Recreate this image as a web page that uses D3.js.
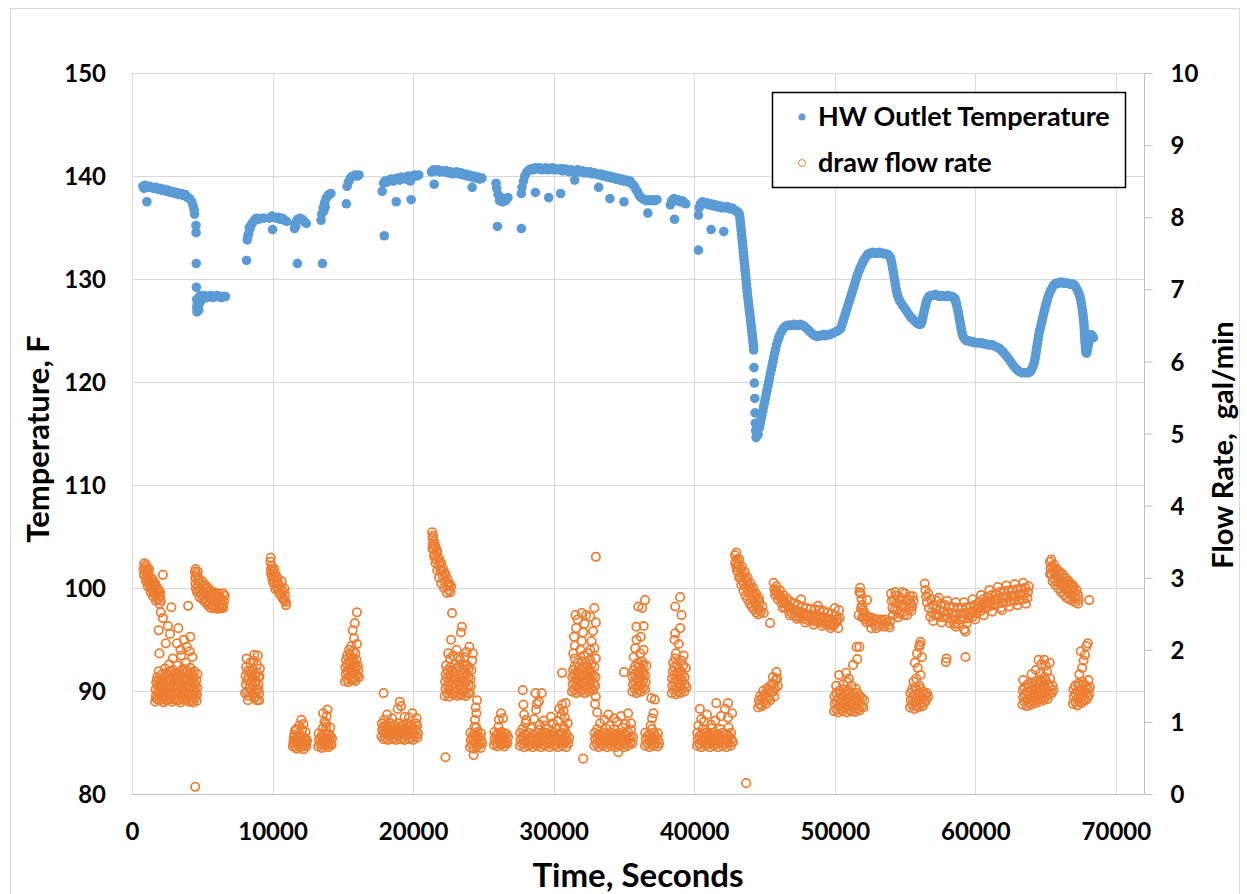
<!DOCTYPE html>
<html><head><meta charset="utf-8">
<script src="https://cdn.jsdelivr.net/npm/d3@7"></script>
<style>
html,body{margin:0;padding:0;background:#fff;}
svg text{font-family:Lato,"Open Sans",sans-serif;font-weight:bold;fill:#000;}
</style></head><body>
<svg id="chart" width="1247" height="894"></svg>
<script>
const timeTicks = [0,10000,20000,30000,40000,50000,60000,70000];
const tempTicks = [80,90,100,110,120,130,140,150];
const flowTicks = [0,1,2,3,4,5,6,7,8,9,10];
const seriesNames = ["HW Outlet Temperature","draw flow rate"];

// HW Outlet Temperature, [seconds, °F]
const tempSeries = [
[780,139.0],[850,138.8],[950,139.1],[1060,137.5],[1100,138.9],[1250,139.0],[1400,138.9],[1550,138.8],[1700,138.9],[1850,138.7],[2000,138.8],[2150,138.6],[2300,138.7],[2450,138.5],[2600,138.6],[2750,138.4],[2900,138.5],[3050,138.3],[3200,138.4],[3350,138.2],[3500,138.3],[3650,138.1],[3800,138.2],[3950,137.9],[4100,137.8],[4250,137.5],[4350,137.1],[4420,136.7],[4450,136.3],
[4550,135.2],[4560,134.5],[4570,131.5],[4580,129.2],[4600,128.0],[4610,127.2],[4620,126.8],[4640,127.5],
[4700,128.1],[4800,127.6],[4900,128.3],[5000,128.0],[5150,128.4],[5300,128.2],[5450,128.3],[5600,128.4],[5750,128.2],[5900,128.3],[6050,128.4],[6200,128.3],[6350,128.2],[6500,128.3],[6650,128.3],[4750,127.0],[4850,128.4],
[8150,131.8],[8200,133.8],[8300,134.4],[8400,134.9],[8500,135.3],[8600,135.5],[8700,135.7],[8850,135.9],[9000,135.8],[9200,135.9],[9400,135.9],[8250,134.2],[8350,135.0],
[9800,135.9],[9950,136.1],[10000,134.8],[10100,136.0],[10250,135.9],[10400,136.0],[10550,135.8],[10700,135.9],[10850,135.7],[11000,135.6],
[11560,134.9],[11600,135.3],[11700,135.6],[11770,131.5],[11800,135.8],[11950,135.9],[12100,135.8],[12250,135.6],[12400,135.4],[11650,135.1],
[13450,135.7],[13500,136.3],[13550,131.5],[13600,136.9],[13700,137.4],[13800,137.8],[13900,138.0],[14000,138.2],[14150,138.3],[13650,136.6],[13750,137.0],
[15250,137.3],[15300,139.0],[15400,139.4],[15500,139.7],[15600,139.9],[15750,140.0],[15900,140.1],[16050,140.0],[16150,140.1],
[17800,138.5],[17950,134.2],[17900,139.3],[18000,139.5],[18150,139.4],[18300,139.6],[18450,139.7],[18600,139.5],[18800,137.5],[18750,139.7],[18900,139.8],[19050,139.6],[19200,139.9],[19350,139.8],[19500,139.7],[19650,140.0],[19860,137.7],[19800,139.5],[19950,139.9],[20100,140.1],[20250,140.0],[20400,140.1],
[21300,140.4],[21500,139.2],[21450,140.6],[21600,140.5],[21750,140.6],[21900,140.4],[22050,140.5],[22200,140.4],[22350,140.5],[22500,140.3],[22650,140.4],[22800,140.2],[22950,140.3],[23100,140.4],[23250,140.2],[23400,140.3],[23550,140.1],[23700,140.2],[23850,140.0],[24000,140.1],[24200,138.9],[24150,139.9],[24300,140.0],[24450,139.8],[24600,139.9],[24750,139.7],[24900,139.8],
[25900,139.3],[25950,138.8],[26000,135.1],[26050,138.2],[26150,137.6],[26250,137.9],[26350,137.5],[26450,137.8],[26600,137.6],[26750,137.9],
[27700,134.9],[27700,138.3],[27750,138.9],[27850,139.5],[27950,140.0],[28100,140.4],[28250,140.6],[28400,140.7],[28550,140.6],[28700,138.4],[28700,140.8],[28850,140.7],[29000,140.8],[29150,140.6],[29300,140.7],[29450,140.8],[29650,137.9],[29600,140.6],[29750,140.7],[29900,140.8],[30050,140.6],[30200,140.7],[30350,140.6],[30500,138.3],[30500,140.7],[30650,140.5],[30800,140.7],[30950,140.6],[31100,140.4],[31250,140.6],[31400,140.5],[31500,139.6],[31550,140.4],[31700,140.6],[31850,140.4],[32000,140.5],[32150,140.3],[32300,140.4],[32450,140.3],[32600,140.4],[32750,140.2],[32900,140.3],[33050,140.2],[33200,138.9],[33200,140.1],[33350,140.2],[33500,140.0],[33650,140.1],[33800,139.9],[34000,137.8],[33950,140.0],[34100,139.8],[34250,139.9],[34400,139.7],[34550,139.8],[34700,139.6],[34850,139.7],[35000,137.5],[35000,139.5],[35150,139.6],[35300,139.4],[35450,139.5],[35600,139.2],[35750,139.0],[35850,138.7],[35950,138.5],[36050,138.2],[36150,138.0],[36300,137.8],[36450,137.7],[36600,137.6],[36700,136.4],[36750,137.7],[36900,137.6],[37050,137.7],[37200,137.6],[37350,137.7],
[38300,137.2],[38400,137.6],[38550,137.8],[38600,135.8],[38700,137.6],[38850,137.7],[39000,137.5],[39150,137.6],[39300,137.4],[39400,137.3],
[40300,132.8],[40300,136.2],[40350,136.9],[40450,137.3],[40600,137.5],[40750,137.3],[40900,137.4],[41050,137.2],[41200,134.8],[41200,137.3],[41350,137.1],[41500,137.2],[41650,137.0],[41800,137.1],[41950,136.9],[42100,134.6],[42100,137.0],[42250,136.9],[42400,137.0],[42550,136.8],[42700,136.9],[42850,136.7],[43000,136.6],[43100,136.5],[43180,136.4],
[43230,136.1],[43260,135.75],[43290,135.4],[43320,135.05],[43345,134.7],[43370,134.35],[43395,134.0],[43420,133.65],[43445,133.3],[43470,132.95],[43495,132.6],[43520,132.25],[43545,131.9],[43570,131.55],[43595,131.2],[43620,130.85],[43645,130.5],[43670,130.15],[43695,129.8],[43720,129.45],[43745,129.1],[43770,128.75],[43795,128.4],[43830,128.05],[43860,127.7],[43890,127.35],[43920,127.0],[43950,126.65],[43980,126.3],[44010,125.95],[44040,125.6],[44070,125.25],[44100,124.9],[44130,124.55],[44160,124.2],[44190,123.85],[44210,123.5],[44230,123.1],
[44250,121.4],[44280,119.9],[44310,118.4],[44330,117.0],[44350,116.0],[44370,115.3],[44400,114.6],[44450,114.8],[44500,115.3],[44550,114.9],[44600,115.8],[44650,115.6],
[44700,116.0],[44760,116.4],[44820,116.8],[44880,117.2],[44940,117.6],[45000,118.0],[45060,118.4],[45120,118.8],[45180,119.2],[45240,119.6],[45300,120.0],[45360,120.4],[45420,120.8],[45480,121.2],[45540,121.6],[45600,122.0],[45660,122.4],[45720,122.8],[45790,123.2],[45860,123.6],[45940,124.0],[46020,124.3],[46100,124.6],[46200,124.9],[46300,125.1],[46400,125.3],[46520,125.4],[46650,125.5],
[46800,125.5],[46950,125.5],[47100,125.6],[47250,125.5],[47400,125.5],[47550,125.6],[47700,125.5],[47850,125.4],[48000,125.2],[48150,125.0],[48300,124.8],[48450,124.6],[48600,124.5],[48750,124.4],[48900,124.5],[49050,124.5],[49200,124.6],[49350,124.5],[49500,124.6],[49650,124.6],[49800,124.7],[49950,124.8],[50100,124.9],[50250,125.0],[50350,125.1],
[50430,125.2],[50510,125.55],[50590,125.9],[50670,126.25],[50750,126.6],[50830,126.95],[50910,127.3],[50990,127.65],[51070,128.0],[51150,128.35],[51230,128.7],[51310,129.05],[51390,129.4],[51470,129.75],[51550,130.1],[51630,130.45],[51710,130.75],[51800,131.05],[51900,131.35],[52000,131.65],[52100,131.9],[52200,132.1],[52300,132.3],[52420,132.45],
[52550,132.5],[52700,132.6],[52850,132.5],[53000,132.5],[53150,132.6],[53300,132.5],[53450,132.5],[53600,132.4],[53750,132.4],[53850,132.3],
[53950,132.1],[54010,131.8],[54070,131.4],[54120,131.0],[54170,130.6],[54220,130.2],[54270,129.8],[54320,129.4],[54370,129.0],[54430,128.6],[54500,128.3],[54580,128.0],[54660,127.8],[54800,127.5],
[54950,127.2],[55100,126.9],[55250,126.6],[55400,126.3],[55550,126.1],[55700,125.9],[55850,125.7],[56000,125.6],[56100,125.6],
[56150,125.7],[56200,125.9],[56250,126.2],[56300,126.5],[56350,126.8],[56400,127.1],[56450,127.4],[56500,127.7],[56560,127.95],[56630,128.15],[56700,128.3],
[56850,128.4],[57000,128.4],[57150,128.5],[57300,128.4],[57450,128.3],[57600,128.4],[57750,128.3],[57900,128.3],[58050,128.4],[58200,128.3],[58350,128.3],[58450,128.2],
[58550,128.1],[58600,127.85],[58650,127.6],[58700,127.3],[58750,127.0],[58790,126.7],[58830,126.4],[58870,126.1],[58910,125.8],[58950,125.5],[58990,125.2],[59030,124.9],[59080,124.6],[59150,124.35],[59250,124.15],
[59400,124.0],[59550,124.0],[59700,123.9],[59850,123.9],[60000,123.8],[60150,123.8],[60300,123.8],[60450,123.8],[60600,123.7],[60750,123.7],[60900,123.6],[61050,123.6],[61200,123.6],[61350,123.5],[61500,123.4],[61650,123.3],[61800,123.15],[61950,122.95],[62100,122.7],[62250,122.45],[62400,122.2],[62550,121.9],[62700,121.6],[62850,121.35],[63000,121.15],[63150,121.0],[63300,120.9],[63450,120.9],[63600,120.9],[63700,120.9],
[63800,120.9],[63900,121.0],[64000,121.2],[64080,121.45],[64150,121.7],[64210,122.0],[64260,122.35],[64300,122.7],[64340,123.05],[64380,123.4],[64420,123.75],[64460,124.1],[64500,124.45],[64550,124.8],[64600,125.1],[64660,125.45],[64720,125.8],[64780,126.15],[64840,126.5],[64900,126.85],[64960,127.2],[65030,127.55],[65100,127.9],[65180,128.25],[65260,128.55],[65350,128.85],[65450,129.1],[65550,129.35],[65650,129.5],[65800,129.6],
[65950,129.6],[66100,129.7],[66250,129.6],[66400,129.6],[66550,129.6],[66700,129.5],[66850,129.5],
[66950,129.5],[67050,129.4],[67150,129.2],[67250,128.95],[67350,128.65],[67430,128.35],[67490,128.0],[67540,127.65],[67580,127.3],[67620,126.95],[67650,126.6],[67680,126.25],[67710,125.9],[67730,125.55],[67750,125.2],[67765,124.85],[67780,124.5],[67795,124.15],[67810,123.8],[67830,123.45],[67850,123.1],[67880,122.85],[67920,122.8],[67970,123.1],[68020,123.45],[68070,123.8],[68120,124.15],[68170,124.45],[68230,124.6],[68300,124.5],[68400,124.3]
];

// draw flow rate, [seconds, gal/min]
const flowSeries = [
[820,3.12],[850,3.04],[900,3.15],[950,3.08],[980,2.99],[1050,3.10],[1080,3.02],[1150,2.95],[1180,3.05],[1250,2.97],[1300,2.88],[1350,2.99],[1420,2.91],[1480,2.82],[1550,2.93],[1600,2.85],[1680,2.76],[1720,2.88],[1800,2.79],[1850,2.70],[1920,2.82],[1980,2.74],[2050,2.68],[1100,3.11],[1400,2.84],[2200,3.04],
[870,3.20],[1000,2.95],[1130,2.88],[1200,3.12],[1330,2.80],[1450,2.98],[1500,2.74],[1650,2.92],[1700,2.68],[1870,2.84],[1950,2.64],[2000,2.80],[1000,3.18],[1580,2.78],
[1650,1.28],[1700,1.36],[1680,1.45],[1720,1.55],[1750,1.32],[1800,1.62],[1950,1.30],[1980,1.40],[2000,1.50],[2020,1.58],[1900,1.70],[2250,1.27],[2280,1.35],[2300,1.44],[2260,1.53],[2320,1.62],[2350,1.74],[2550,1.31],[2580,1.40],[2600,1.49],[2620,1.57],[2560,1.66],[2640,1.80],[2850,1.28],[2880,1.37],[2900,1.46],[2920,1.55],[2870,1.64],[2930,1.72],[2900,1.88],[3150,1.30],[3180,1.39],[3200,1.48],[3220,1.57],[3170,1.67],[3230,1.78],[3450,1.27],[3480,1.36],[3500,1.45],[3520,1.54],[3460,1.63],[3540,1.71],[3500,1.92],[3750,1.30],[3780,1.39],[3800,1.48],[3820,1.58],[3760,1.68],[3840,1.82],[4050,1.28],[4080,1.37],[4100,1.46],[4120,1.55],[4060,1.65],[4140,1.75],[4100,1.98],[4350,1.27],[4380,1.36],[4400,1.45],[4420,1.54],[4360,1.62],[4440,1.70],[4600,1.29],[4620,1.38],[4650,1.47],[4580,1.58],[4660,1.66],
[1800,1.32],[1820,1.41],[1850,1.50],[1830,1.58],[2120,1.31],[2150,1.40],[2130,1.49],[2160,1.57],[2120,1.66],[2420,1.30],[2450,1.39],[2430,1.48],[2460,1.57],[2440,1.68],[2720,1.32],[2750,1.41],[2730,1.50],[2760,1.59],[2740,1.70],[3020,1.31],[3050,1.40],[3030,1.49],[3060,1.59],[3040,1.68],[3320,1.30],[3350,1.39],[3330,1.49],[3360,1.58],[3340,1.67],[3620,1.32],[3650,1.41],[3630,1.50],[3660,1.59],[3640,1.74],[3920,1.31],[3950,1.40],[3930,1.50],[3960,1.60],[3940,1.70],[4220,1.30],[4250,1.39],[4230,1.49],[4260,1.58],[4240,1.68],[4500,1.33],[4520,1.42],[4510,1.52],
[2050,2.52],[2800,2.59],[4000,2.61],[2200,2.44],[2550,2.33],[1900,2.27],[3300,2.30],[4150,2.18],[2400,2.09],[3200,2.09],[3700,2.14],[2700,2.22],[3450,2.00],[1950,1.95],[4300,1.90],[3900,2.04],[4500,0.10],
[4480,3.08],[4500,3.00],[4520,2.92],[4550,2.85],[4600,3.04],[4650,2.96],[4700,2.88],[4750,2.80],[4850,2.93],[4900,2.85],[4950,2.77],[5050,2.88],[5100,2.80],[5150,2.72],[5250,2.84],[5300,2.76],[5350,2.68],[5450,2.80],[5500,2.72],[5550,2.64],[5650,2.78],[5700,2.70],[5750,2.62],[5850,2.76],[5900,2.68],[5950,2.61],[6050,2.74],[6100,2.66],[6150,2.60],[6250,2.72],[6300,2.64],[6400,2.70],[6450,2.62],[6550,2.67],[6600,2.75],
[4530,3.12],[4620,2.80],[4680,3.08],[4800,2.73],[4780,2.98],[5000,2.70],[5000,2.95],[5200,2.66],[5200,2.90],[5400,2.62],[5400,2.86],[5600,2.58],[5600,2.82],[5800,2.58],[5800,2.80],[6000,2.57],[6000,2.78],[6200,2.57],[6200,2.78],[6350,2.58],[6500,2.58],[6500,2.78],
[8050,1.40],[8100,1.52],[8080,1.64],[8120,1.76],[8150,1.88],[8300,1.36],[8350,1.47],[8320,1.59],[8380,1.70],[8400,1.82],[8550,1.38],[8600,1.50],[8580,1.62],[8620,1.73],[8650,1.85],[8800,1.35],[8850,1.45],[8820,1.56],[8870,1.68],[8900,1.79],[8950,1.92],[9050,1.40],[9000,1.52],[9080,1.63],[9100,1.74],[8700,1.93],
[8180,1.42],[8200,1.58],[8220,1.70],[8450,1.43],[8470,1.55],[8480,1.66],[8720,1.41],[8740,1.55],[8760,1.65],[8980,1.45],[9000,1.62],[8250,1.30],[8700,1.33],[9050,1.30],[8900,1.30],
[9850,3.22],[9880,3.12],[9900,3.05],[9950,3.16],[10000,2.98],[10050,3.08],[10100,2.92],[10150,3.01],[10250,2.88],[10300,2.96],[10400,2.82],[10450,2.91],[10550,2.77],[10600,2.86],[10700,2.72],[10750,2.81],[10850,2.68],[10900,2.76],[10950,2.66],[10000,3.10],
[9870,3.28],[9950,3.02],[10050,2.93],[10120,3.12],[10200,2.84],[10350,3.00],[10500,2.78],[10650,2.95],[10800,2.70],[10850,2.85],[10950,2.62],[10200,3.05],
[11450,0.66],[11500,0.74],[11550,0.82],[11700,0.63],[11750,0.71],[11800,0.79],[11950,0.65],[12000,0.73],[12050,0.81],[12200,0.62],[12250,0.70],[12300,0.78],[12400,0.66],[12450,0.74],[12100,0.89],[11900,0.95],[12050,1.03],[12350,0.86],[11600,0.88],
[11480,0.70],[11520,0.79],[11620,0.66],[11650,0.75],[11870,0.68],[11880,0.77],[12120,0.66],[12150,0.75],[12330,0.69],[12350,0.76],[11700,0.90],[12200,0.97],
[13250,0.66],[13300,0.75],[13280,0.84],[13500,0.64],[13550,0.73],[13520,0.82],[13570,0.91],[13750,0.66],[13800,0.75],[13780,0.84],[13820,0.93],[14000,0.65],[14050,0.74],[14020,0.83],[14200,0.68],[14230,0.77],[13700,1.00],[13850,1.08],[13900,1.17],[14100,0.92],
[13400,0.69],[13420,0.78],[13650,0.69],[13660,0.78],[13900,0.68],[13920,0.77],[14120,0.70],[14130,0.80],[13600,1.12],[13800,0.98],
[15150,1.56],[15200,1.66],[15180,1.76],[15220,1.86],[15400,1.55],[15450,1.64],[15420,1.74],[15470,1.84],[15500,1.94],[15650,1.58],[15700,1.68],[15680,1.78],[15720,1.88],[15750,1.98],[15900,1.57],[15950,1.66],[15920,1.76],[15970,1.86],[16000,2.08],[16150,1.62],[16100,1.72],[15600,2.05],[15800,2.16],[15700,2.27],[15850,2.37],[16000,2.52],[15450,2.00],
[15300,1.60],[15320,1.70],[15300,1.80],[15560,1.61],[15580,1.71],[15570,1.82],[15820,1.60],[15830,1.71],[15810,1.82],[16050,1.64],[16060,1.78],[15600,1.90],[15900,1.95],[15300,1.92],
[17750,0.80],[17800,0.89],[17780,0.98],[18050,0.78],[18100,0.87],[18080,0.96],[18350,0.80],[18400,0.89],[18380,0.98],[18650,0.78],[18700,0.87],[18680,0.96],[18950,0.80],[19000,0.89],[18980,0.98],[19250,0.78],[19300,0.87],[19280,0.96],[19550,0.80],[19600,0.89],[19580,0.98],[19850,0.78],[19900,0.87],[19880,0.96],[20150,0.80],[20200,0.89],[20180,0.98],[20350,0.84],[17900,1.40],[18150,1.10],[18500,1.05],[18900,1.18],[19050,1.28],[19150,1.22],[19400,1.07],[19950,1.12],[20250,1.05],[17950,1.03],[19700,1.06],
[17900,0.76],[17920,0.85],[17900,0.93],[18200,0.75],[18220,0.84],[18200,0.92],[18500,0.76],[18520,0.85],[18500,0.93],[18800,0.75],[18820,0.84],[18800,0.92],[19100,0.76],[19120,0.85],[19100,0.93],[19400,0.75],[19420,0.84],[19400,0.92],[19700,0.76],[19720,0.85],[19700,0.93],[20000,0.75],[20020,0.84],[20000,0.92],[20300,0.78],[20300,0.95],
[21350,3.63],[21380,3.55],[21400,3.47],[21450,3.40],[21500,3.50],[21550,3.32],[21600,3.42],[21650,3.25],[21700,3.34],[21800,3.18],[21850,3.27],[21950,3.10],[22000,3.20],[22100,3.03],[22150,3.12],[22250,2.96],[22300,3.05],[22400,2.89],[22450,2.98],[22550,2.83],[22600,2.91],[22650,2.80],
[21380,3.40],[21480,3.30],[21600,3.20],[21720,3.10],[21850,3.00],[22000,2.92],[22200,2.86],[22400,2.79],[21420,3.58],[21550,3.45],[21700,3.38],[21900,3.22],[22050,3.10],[22250,3.05],[22500,2.92],[22700,2.88],
[22250,1.36],[22300,1.46],[22280,1.56],[22320,1.66],[22350,1.78],[22550,1.35],[22600,1.45],[22580,1.55],[22620,1.65],[22650,1.76],[22640,1.88],[22850,1.38],[22900,1.48],[22880,1.58],[22920,1.68],[22950,1.80],[23150,1.36],[23200,1.46],[23180,1.56],[23220,1.66],[23250,1.77],[23230,1.90],[23450,1.37],[23500,1.47],[23480,1.57],[23520,1.67],[23550,1.78],[23750,1.36],[23800,1.46],[23780,1.56],[23820,1.66],[23850,1.78],[24050,1.40],[24100,1.50],[24080,1.60],[24150,1.72],[24200,1.85],[24250,1.95],[22770,2.51],[23470,2.32],[23400,2.24],[22700,2.14],[24000,2.04],[23100,2.00],[23800,1.97],[22300,0.51],
[22420,1.40],[22440,1.50],[22420,1.61],[22450,1.72],[22720,1.40],[22740,1.51],[22720,1.61],[22760,1.72],[23020,1.41],[23040,1.52],[23020,1.62],[23060,1.74],[23320,1.40],[23340,1.51],[23320,1.61],[23360,1.72],[23620,1.41],[23640,1.52],[23620,1.62],[23660,1.73],[23920,1.40],[23940,1.51],[23920,1.61],[23960,1.74],[22500,1.95],[22850,1.92],[23350,1.86],[23650,1.90],
[24050,0.65],[24100,0.75],[24080,0.85],[24300,0.63],[24350,0.73],[24320,0.83],[24370,0.93],[24550,0.66],[24600,0.76],[24580,0.86],[24800,0.64],[24850,0.74],[24820,0.84],[24400,1.03],[24500,1.12],[24450,1.20],[24550,1.30],[24300,0.54],
[24180,0.69],[24200,0.79],[24450,0.70],[24460,0.80],[24700,0.69],[24720,0.79],[24920,0.70],[24500,0.92],
[25750,0.68],[25800,0.77],[25780,0.86],[26000,0.66],[26050,0.75],[26020,0.84],[26070,0.93],[26250,0.68],[26300,0.77],[26280,0.86],[26500,0.66],[26550,0.75],[26530,0.84],[26700,0.70],[26750,0.79],[26100,1.03],[26250,1.12],[26400,1.05],
[25900,0.71],[25900,0.81],[26150,0.71],[26160,0.81],[26400,0.70],[26420,0.80],[26620,0.72],[26650,0.83],
[27600,0.67],[27650,0.76],[27620,0.85],[27900,0.65],[27950,0.74],[27920,0.83],[28200,0.67],[28250,0.76],[28220,0.85],[28500,0.65],[28550,0.74],[28520,0.83],[28800,0.67],[28850,0.76],[28820,0.85],[29100,0.65],[29150,0.74],[29120,0.83],[29400,0.67],[29450,0.76],[29420,0.85],[29700,0.65],[29750,0.74],[29720,0.83],[30000,0.67],[30050,0.76],[30020,0.85],[30300,0.65],[30350,0.74],[30320,0.83],[30600,0.67],[30650,0.76],[30620,0.85],[30900,0.65],[30950,0.74],[30920,0.83],[31100,0.78],[27800,1.44],[27850,1.24],[27900,1.10],[28000,0.98],[28050,1.03],[28600,1.04],[28700,1.40],[28800,1.25],[28750,1.17],[29000,0.96],[29300,1.02],[29400,0.95],[29800,1.07],[29950,0.98],[30300,1.01],[30400,1.18],[30600,1.24],[30550,1.10],[30800,1.06],[30700,0.93],[31000,0.98],[29150,1.40],[28940,1.28],[30850,1.26],[30700,1.15],
[27750,0.70],[27770,0.80],[28050,0.71],[28070,0.81],[28350,0.69],[28370,0.79],[28650,0.70],[28670,0.81],[28950,0.71],[28970,0.80],[29250,0.69],[29270,0.79],[29550,0.70],[29570,0.81],[29850,0.71],[29870,0.80],[30150,0.69],[30170,0.79],[30450,0.70],[30470,0.81],[30750,0.71],[30770,0.80],[31050,0.70],[27780,0.90],[28380,0.91],[28980,0.89],[29580,0.90],[30180,0.92],[30780,0.90],
[31300,1.42],[31350,1.52],[31320,1.62],[31380,1.72],[31600,1.40],[31650,1.50],[31620,1.60],[31680,1.70],[31700,1.82],[31900,1.42],[31950,1.52],[31920,1.62],[31980,1.72],[32000,1.84],[32200,1.40],[32250,1.50],[32220,1.60],[32280,1.70],[32300,1.82],[32500,1.42],[32550,1.52],[32520,1.62],[32580,1.72],[32600,1.86],[32800,1.44],[32850,1.54],[32820,1.64],[32900,1.76],[33000,1.88],[31400,1.95],[31500,2.06],[31450,2.18],[31600,2.30],[31700,2.42],[31900,2.00],[32000,2.12],[32100,2.24],[32200,2.36],[32300,2.48],[32600,2.00],[32700,2.12],[32800,2.26],[33000,2.38],[32900,2.58],[31550,2.48],[32000,2.51],[32600,2.46],[32900,2.02],
[31450,1.45],[31480,1.56],[31460,1.66],[31490,1.77],[31760,1.46],[31780,1.56],[31760,1.66],[31800,1.76],[32060,1.45],[32080,1.55],[32060,1.66],[32100,1.76],[32360,1.46],[32380,1.56],[32360,1.66],[32400,1.78],[32660,1.47],[32680,1.58],[32680,1.68],[32700,1.80],[32950,1.50],[32980,1.62],[31500,1.88],[32150,1.92],[32450,1.95],
[33000,3.29],[30600,1.68],[32100,0.49],
[32900,0.67],[32950,0.76],[32920,0.85],[33200,0.65],[33250,0.74],[33220,0.83],[33500,0.67],[33550,0.76],[33520,0.85],[33800,0.65],[33850,0.74],[33820,0.83],[34100,0.67],[34150,0.76],[34120,0.85],[34400,0.65],[34450,0.74],[34420,0.83],[34700,0.67],[34750,0.76],[34720,0.85],[35000,0.65],[35050,0.74],[35020,0.83],[35300,0.67],[35350,0.76],[35320,0.85],[35600,0.70],[35650,0.79],[33000,1.35],[32950,1.25],[33100,1.13],[33300,0.98],[33600,1.03],[33900,1.10],[34000,0.95],[34300,1.05],[34500,1.00],[34800,1.08],[35100,0.97],[35300,1.12],[35500,0.98],[34600,0.58],
[33050,0.70],[33070,0.80],[33350,0.70],[33370,0.80],[33650,0.71],[33670,0.80],[33950,0.70],[33970,0.79],[34250,0.71],[34270,0.81],[34550,0.70],[34570,0.80],[34850,0.71],[34870,0.80],[35150,0.70],[35170,0.81],[35450,0.71],[35470,0.80],[33100,0.90],[33700,0.91],[34300,0.90],[34900,0.92],[35500,0.89],
[35600,1.42],[35650,1.52],[35620,1.62],[35680,1.72],[35900,1.40],[35950,1.50],[35920,1.60],[35980,1.70],[36000,1.82],[36200,1.42],[36250,1.52],[36220,1.62],[36280,1.72],[36300,1.84],[36500,1.45],[36550,1.55],[36520,1.65],[36600,1.78],[35800,2.02],[35900,2.14],[36200,2.18],[35890,2.32],[36400,2.33],[36030,2.60],[36500,2.69],[36300,2.58],[36400,2.00],[35000,1.69],
[35750,1.46],[35770,1.56],[35760,1.66],[35790,1.77],[36050,1.45],[36070,1.56],[36060,1.66],[36090,1.76],[36350,1.47],[36370,1.58],[36360,1.68],[36390,1.80],[35700,1.90],[36150,1.95],
[36500,0.67],[36550,0.76],[36520,0.85],[36800,0.65],[36850,0.74],[36820,0.83],[37100,0.67],[37150,0.76],[37120,0.85],[37400,0.66],[37450,0.75],[37420,0.84],[36900,0.95],[37000,1.05],[37100,1.12],[36950,1.33],[37200,1.31],
[36650,0.70],[36670,0.80],[36950,0.70],[36970,0.80],[37250,0.71],[37270,0.80],[37500,0.70],[37000,0.90],
[38400,1.40],[38450,1.50],[38420,1.60],[38480,1.70],[38500,1.82],[38700,1.38],[38750,1.48],[38720,1.58],[38780,1.68],[38800,1.80],[39000,1.40],[39050,1.50],[39020,1.60],[39080,1.70],[39100,1.85],[39300,1.42],[39350,1.52],[39320,1.62],[39400,1.75],[38700,1.95],[38900,2.08],[38600,2.14],[38650,2.23],[39000,2.30],[38650,2.60],[39000,2.73],[39100,2.48],
[38550,1.44],[38570,1.55],[38560,1.65],[38590,1.76],[38850,1.43],[38870,1.54],[38860,1.64],[38890,1.74],[39150,1.45],[39170,1.56],[39160,1.66],[39200,1.78],[39450,1.48],[38650,1.88],[39250,1.92],
[40200,0.67],[40250,0.76],[40220,0.85],[40500,0.65],[40550,0.74],[40520,0.83],[40800,0.67],[40850,0.76],[40820,0.85],[41100,0.65],[41150,0.74],[41120,0.83],[41400,0.67],[41450,0.76],[41420,0.85],[41700,0.65],[41750,0.74],[41720,0.83],[42000,0.67],[42050,0.76],[42020,0.85],[42300,0.65],[42350,0.74],[42320,0.83],[42600,0.67],[42650,0.76],[42620,0.85],[40300,0.95],[40500,1.04],[40700,1.00],[40900,1.10],[41200,0.96],[41500,1.02],[41900,1.08],[42200,1.18],[42400,1.06],[42700,1.12],[42400,1.26],[41570,1.26],[40400,1.18],
[40350,0.70],[40370,0.80],[40650,0.71],[40670,0.80],[40950,0.70],[40970,0.80],[41250,0.71],[41270,0.81],[41550,0.70],[41570,0.80],[41850,0.71],[41870,0.80],[42150,0.70],[42170,0.81],[42450,0.71],[42470,0.80],[42750,0.72],[40600,0.90],[41250,0.91],[41850,0.90],[42450,0.92],
[42900,3.31],[42950,3.22],[43000,3.15],[43050,3.26],[43100,3.08],[43150,3.18],[43250,3.02],[43300,3.12],[43400,2.96],[43450,3.05],[43550,2.91],[43600,3.00],[43700,2.86],[43750,2.95],[43850,2.80],[43900,2.89],[44000,2.75],[44050,2.84],[44150,2.70],[44200,2.79],[44300,2.66],[44350,2.74],[44450,2.61],[44500,2.70],[44600,2.56],[44650,2.65],[44750,2.53],[44850,2.60],[44950,2.51],[45400,2.37],[43700,0.15],
[42920,3.20],[43050,3.10],[43200,3.00],[43350,2.90],[43500,2.82],[43650,2.75],[43800,2.70],[43950,2.64],[44100,2.60],[44250,2.56],[44400,2.52],[44550,2.49],[43000,3.35],[43200,3.25],[43400,3.15],[43600,3.08],[43800,3.00],[44000,2.92],[44200,2.86],[44400,2.78],[44600,2.72],
[44550,1.20],[44600,1.30],[44800,1.22],[44850,1.33],[44900,1.43],[45100,1.25],[45150,1.36],[45200,1.47],[45400,1.30],[45450,1.41],[45500,1.52],[45700,1.35],[45750,1.46],[45800,1.58],[45850,1.69],[45950,1.50],[45600,1.62],
[44650,1.25],[44950,1.28],[45000,1.38],[45300,1.33],[45300,1.44],[45600,1.42],[45650,1.52],[45900,1.60],[44700,1.36],
[45650,2.93],[45700,2.84],[45750,2.76],[45850,2.88],[45900,2.79],[45950,2.70],[46100,2.82],[46150,2.73],[46200,2.65],[46350,2.76],[46400,2.67],[46450,2.59],[46600,2.71],[46650,2.62],[46700,2.54],[46850,2.67],[46900,2.58],[46950,2.50],[47100,2.64],[47150,2.55],[47200,2.47],[47400,2.62],[47450,2.53],[47500,2.45],[47700,2.60],[47750,2.51],[47800,2.43],[48000,2.58],[48050,2.49],[48100,2.41],[48300,2.57],[48350,2.48],[48400,2.40],[48600,2.56],[48650,2.47],[48700,2.39],[48900,2.55],[48950,2.46],[49000,2.38],[49200,2.54],[49250,2.45],[49300,2.36],[49500,2.52],[49550,2.43],[49600,2.34],[49800,2.50],[49850,2.42],[49900,2.33],[50100,2.47],[50150,2.39],[50250,2.30],[50300,2.55],[50350,2.44],[47600,2.70],[48800,2.61],[50000,2.58],
[45800,2.80],[46000,2.76],[46250,2.70],[46500,2.64],[46750,2.60],[47000,2.56],[47300,2.52],[47600,2.49],[47900,2.47],[48200,2.45],[48500,2.43],[48800,2.42],[49100,2.41],[49400,2.39],[49700,2.37],[50000,2.36],[50200,2.42],[46300,2.58],[46800,2.48],[47300,2.43],[47900,2.38],[48500,2.35],[49100,2.33],[49700,2.30],
[49950,1.15],[50000,1.25],[49980,1.35],[50250,1.13],[50300,1.23],[50280,1.33],[50320,1.43],[50550,1.15],[50600,1.25],[50580,1.35],[50620,1.45],[50850,1.13],[50900,1.23],[50880,1.33],[50920,1.43],[51150,1.15],[51200,1.25],[51180,1.35],[51450,1.14],[51500,1.24],[51480,1.34],[51750,1.16],[51800,1.26],[51780,1.36],[52050,1.20],[52100,1.30],[50900,1.55],[50800,1.68],[51300,1.79],[51550,2.04],[51750,2.04],[51600,1.87],[51200,1.50],[51000,1.60],[50100,1.50],[50300,1.65],
[50100,1.18],[50120,1.29],[50100,1.40],[50420,1.18],[50440,1.28],[50420,1.39],[50720,1.19],[50740,1.29],[50720,1.39],[51020,1.18],[51040,1.28],[51020,1.40],[51320,1.19],[51340,1.29],[51320,1.40],[51620,1.19],[51640,1.29],[51620,1.40],[51920,1.22],[51940,1.33],[50600,1.52],[51500,1.46],
[51800,2.86],[51850,2.78],[51900,2.70],[51950,2.62],[52000,2.55],[52050,2.48],[52150,2.42],[52350,2.46],[52500,2.38],[52700,2.44],[52850,2.35],[53000,2.42],[53200,2.33],[53350,2.40],[53500,2.32],[53700,2.38],[53900,2.31],[52300,2.69],[51700,2.48],[52600,2.30],
[51870,2.58],[51950,2.45],[52100,2.52],[52250,2.38],[52450,2.45],[52600,2.40],[52800,2.42],[52950,2.30],[53100,2.37],[53300,2.42],[53450,2.36],[53600,2.42],[53800,2.34],[53950,2.40],[51750,2.80],
[54000,2.78],[54050,2.68],[54100,2.58],[54150,2.48],[54350,2.75],[54400,2.65],[54450,2.55],[54500,2.45],[54700,2.72],[54750,2.62],[54800,2.52],[55000,2.78],[55050,2.68],[55100,2.58],[55150,2.48],[55350,2.74],[55400,2.64],[55450,2.54],[55600,2.68],
[54200,2.70],[54250,2.55],[54600,2.68],[54600,2.50],[54900,2.62],[54900,2.48],[55250,2.70],[55250,2.56],[55500,2.60],[55550,2.74],[54300,2.80],[54800,2.80],
[55350,1.20],[55400,1.30],[55380,1.40],[55650,1.18],[55700,1.28],[55680,1.38],[55720,1.48],[55950,1.20],[56000,1.30],[55980,1.40],[56020,1.50],[56250,1.22],[56300,1.32],[56280,1.42],[56500,1.30],[56550,1.40],[55800,1.60],[55900,1.75],[56100,1.65],[55700,1.82],[55850,1.95],[56000,2.04],[56100,2.11],[56200,1.90],[56050,2.07],
[55500,1.24],[55520,1.34],[55500,1.45],[55800,1.23],[55820,1.33],[55800,1.44],[56100,1.25],[56120,1.35],[56100,1.46],[56400,1.27],[56420,1.37],[56650,1.35],[55600,1.56],
[56400,2.92],[56450,2.83],[56500,2.74],[56550,2.66],[56700,2.58],[56650,2.78],[56850,2.70],[56900,2.52],[57000,2.62],[57150,2.48],[57200,2.57],[57250,2.68],[57400,2.46],[57450,2.55],[57550,2.64],[57700,2.45],[57750,2.53],[57850,2.62],[58000,2.44],[58050,2.52],[58150,2.60],[58300,2.43],[58350,2.51],[58450,2.59],[58600,2.42],[58650,2.50],[58750,2.58],[58900,2.42],[58950,2.50],[59050,2.58],[59200,2.43],[59250,2.51],[59350,2.59],[59500,2.44],[59550,2.52],[59650,2.60],[59800,2.46],[59850,2.54],[59950,2.62],[60100,2.50],[60150,2.58],[60250,2.66],[60400,2.54],[60450,2.62],[60550,2.70],[60700,2.57],[60750,2.65],[60850,2.73],[61000,2.60],[61050,2.68],[61150,2.76],[61300,2.62],[61350,2.70],[61450,2.78],[61600,2.64],[61650,2.72],[61750,2.80],[61900,2.65],[61950,2.73],[62050,2.81],[62200,2.66],[62250,2.74],[62350,2.82],[62500,2.67],[62550,2.75],[62650,2.83],[62800,2.68],[62850,2.76],[62950,2.84],[63100,2.69],[63150,2.77],[63250,2.85],[63400,2.70],[63450,2.78],[63550,2.86],[63700,2.72],[63750,2.80],[63800,2.88],
[57000,2.40],[57600,2.38],[58200,2.37],[58800,2.36],[59400,2.37],[60000,2.42],[60600,2.48],[61200,2.53],[61800,2.58],[62400,2.60],[63000,2.62],[63600,2.64],[57400,2.72],[58000,2.68],[58600,2.66],[59200,2.66],[59800,2.70],[60400,2.76],[61000,2.83],[61600,2.87],[62200,2.89],[62800,2.91],[63400,2.93],[57300,2.50],[57900,2.48],[58500,2.47],[59100,2.46],[59700,2.49],[60300,2.58],[60900,2.64],[61500,2.69],[62100,2.72],[62700,2.74],[63300,2.76],
[56800,2.46],[58600,2.32],[59300,2.25],[59300,1.90],[57900,1.83],[57950,1.88],[61900,2.55],[59200,2.28],[58500,2.36],
[63350,1.24],[63400,1.34],[63380,1.44],[63650,1.22],[63700,1.32],[63680,1.42],[63720,1.52],[63950,1.24],[64000,1.34],[63980,1.44],[64020,1.54],[64250,1.26],[64300,1.36],[64280,1.46],[64320,1.56],[64550,1.28],[64600,1.38],[64580,1.48],[64620,1.58],[64850,1.30],[64900,1.40],[64880,1.50],[64920,1.62],[65150,1.32],[65200,1.42],[65180,1.52],[65450,1.40],[65500,1.50],[64000,1.66],[64300,1.72],[64700,1.80],[65000,1.78],[65300,1.82],[64500,1.86],[64900,1.86],[63400,1.58],
[63500,1.28],[63520,1.38],[63500,1.48],[63800,1.27],[63820,1.37],[63800,1.48],[64100,1.29],[64120,1.39],[64100,1.50],[64400,1.31],[64420,1.41],[64400,1.52],[64700,1.33],[64720,1.44],[64700,1.55],[65000,1.35],[65020,1.46],[65000,1.58],[65300,1.38],[65320,1.48],[65320,1.60],[65550,1.44],[64650,1.68],[65100,1.70],
[65300,3.22],[65350,3.13],[65400,3.05],[65450,3.16],[65550,3.08],[65600,2.99],[65700,3.10],[65800,3.02],[65850,2.94],[65950,3.05],[66050,2.97],[66100,2.89],[66200,3.00],[66300,2.92],[66350,2.84],[66450,2.95],[66550,2.88],[66600,2.80],[66700,2.91],[66800,2.84],[66850,2.76],[66950,2.87],[67050,2.80],[67100,2.73],[67200,2.83],[67300,2.76],[67350,2.70],[68100,2.69],
[65320,3.05],[65500,2.95],[65700,2.90],[65900,2.85],[66100,2.80],[66300,2.76],[66500,2.72],[66700,2.70],[66900,2.68],[67100,2.66],[67300,2.64],[65400,3.25],[65600,3.18],[65800,3.12],[66000,3.08],[66200,3.05],[66400,3.00],[66600,2.96],[66800,2.92],[67000,2.88],
[66950,1.25],[67000,1.35],[66980,1.45],[67250,1.23],[67300,1.33],[67280,1.43],[67320,1.53],[67550,1.26],[67600,1.36],[67580,1.46],[67620,1.56],[67850,1.30],[67900,1.40],[67880,1.50],[68100,1.38],[68150,1.48],[67400,1.66],[67600,1.75],[67700,1.85],[67800,1.93],[67900,2.05],[68000,2.09],[67500,1.98],
[67100,1.28],[67120,1.39],[67100,1.50],[67400,1.28],[67420,1.39],[67400,1.50],[67700,1.30],[67720,1.41],[67700,1.52],[68000,1.34],[68020,1.45],[68050,1.58]
];

const W = 1247, H = 894;
const plot = {left:132, right:1144, top:73, bottom:794};
const blue = "#5B9BD5", orange = "#ED7D31", grid = "#d9d9d9";

const svg = d3.select("#chart");
svg.append("rect").attr("x",0).attr("y",0).attr("width",W).attr("height",H).attr("fill","#fff");
svg.append("rect").attr("x",10.5).attr("y",8.5).attr("width",1229).attr("height",H+20)
  .attr("fill","none").attr("stroke",grid).attr("stroke-width",1);

const x = d3.scaleLinear().domain([0,72000]).range([plot.left, plot.right]);
const yT = d3.scaleLinear().domain([80,150]).range([plot.bottom, plot.top]);
const yF = d3.scaleLinear().domain([0,10]).range([plot.bottom, plot.top]);

// gridlines
const g = svg.append("g");
g.selectAll("line.h").data(tempTicks).enter().append("line")
  .attr("x1",plot.left).attr("x2",plot.right)
  .attr("y1",d=>Math.round(yT(d))+0.5).attr("y2",d=>Math.round(yT(d))+0.5)
  .attr("stroke",grid).attr("stroke-width",1);
g.selectAll("line.v").data(timeTicks).enter().append("line")
  .attr("y1",plot.top).attr("y2",plot.bottom)
  .attr("x1",d=>Math.round(x(d))+0.5).attr("x2",d=>Math.round(x(d))+0.5)
  .attr("stroke",grid).attr("stroke-width",1);

// bottom axis (labels only)
const xAxis = d3.axisBottom(x).tickValues(timeTicks).tickSize(0).tickPadding(0).tickFormat(d3.format("d"));
const xa = svg.append("g").attr("transform",`translate(0,${plot.bottom})`).call(xAxis);
xa.select(".domain").attr("stroke","#bfbfbf").attr("d",`M${plot.left},0.5H${plot.right+8}`);
xa.selectAll("text").attr("font-size",24).attr("dy",0).attr("y",46).attr("fill","#000");

// left axis (labels only)
const yAxisL = d3.axisLeft(yT).tickValues(tempTicks).tickSize(0).tickPadding(0);
const ya = svg.append("g").attr("transform",`translate(${plot.left},0)`).call(yAxisL);
ya.select(".domain").remove();
ya.selectAll("text").attr("font-size",24).attr("x",-26).attr("dy","0.36em").attr("fill","#000");

// right axis
const yAxisR = d3.axisRight(yF).tickValues(flowTicks).tickSize(8).tickPadding(0);
const yr = svg.append("g").attr("transform",`translate(${plot.right+0.5},0)`).call(yAxisR);
yr.select(".domain").attr("stroke","#bfbfbf").attr("d",`M0,${plot.top}V${plot.bottom}`);
yr.selectAll(".tick line").attr("stroke","#bfbfbf");
yr.selectAll("text").attr("font-size",24).attr("x",26).attr("dy","0.36em").attr("fill","#000");

// series
svg.append("g").selectAll("circle").data(tempSeries).enter().append("circle")
  .attr("cx",d=>x(d[0])).attr("cy",d=>yT(d[1])).attr("r",4.8).attr("fill",blue);
svg.append("g").selectAll("circle").data(flowSeries).enter().append("circle")
  .attr("cx",d=>x(d[0])).attr("cy",d=>yF(d[1])).attr("r",4.2).attr("fill","none")
  .attr("stroke",orange).attr("stroke-width",1.75);

// axis titles
svg.append("text").attr("x",(plot.left+plot.right)/2).attr("y",887).attr("text-anchor","middle")
  .attr("font-size",33).text("Time, Seconds");
svg.append("text").attr("transform",`translate(49,439) rotate(-90)`)
  .attr("text-anchor","middle").attr("font-size",31).text("Temperature, F");
svg.append("text").attr("transform",`translate(1233,445) rotate(-90)`)
  .attr("text-anchor","middle").attr("font-size",29).attr("xml:space","preserve").style("white-space","pre").text("Flow Rate,  gal/min");

// legend
const lg = svg.append("g");
lg.append("rect").attr("x",772.5).attr("y",92.5).attr("width",353).attr("height",95)
  .attr("fill","#fff").attr("stroke","#000").attr("stroke-width",1.5);
lg.append("circle").attr("cx",802).attr("cy",117).attr("r",3.5).attr("fill",blue);
lg.append("text").attr("x",818).attr("y",126).attr("font-size",27).text(seriesNames[0]);
lg.append("circle").attr("cx",802).attr("cy",163).attr("r",3.5).attr("fill","none").attr("stroke",orange).attr("stroke-width",1);
lg.append("text").attr("x",818).attr("y",172).attr("font-size",27).text(seriesNames[1]);
</script>
</body></html>
